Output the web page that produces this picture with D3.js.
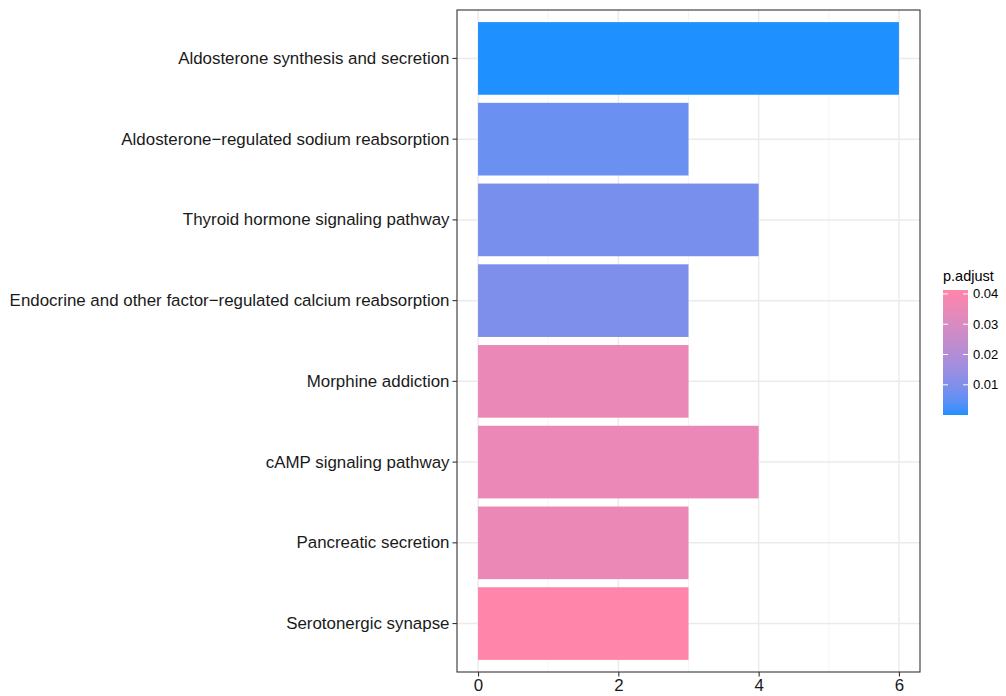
<!DOCTYPE html>
<html>
<head>
<meta charset="utf-8">
<script src="https://cdn.jsdelivr.net/npm/d3@7"></script>
<style>
  body { margin: 0; background: #fff; }
  svg { display: block; font-family: "Liberation Sans", Arial, sans-serif; }
</style>
</head>
<body>
<svg id="chart" width="1006" height="696"></svg>
<script>
// KEGG pathway enrichment: gene counts per pathway, coloured by adjusted p-value
const pathways = [
  "Aldosterone synthesis and secretion",
  "Aldosterone\u2212regulated sodium reabsorption",
  "Thyroid hormone signaling pathway",
  "Endocrine and other factor\u2212regulated calcium reabsorption",
  "Morphine addiction",
  "cAMP signaling pathway",
  "Pancreatic secretion",
  "Serotonergic synapse"
];
const counts = [6, 3, 4, 3, 3, 4, 3, 3];
const pAdjust = [0.00003, 0.0065, 0.0085, 0.0095, 0.0350, 0.0352, 0.0354, 0.0413];
const xTicks = [0, 2, 4, 6];
const xMinor = [1, 3, 5];
const legendTicks = [0.01, 0.02, 0.03, 0.04];

const svg = d3.select("#chart");
const panel = { left: 457, right: 920, top: 10, bottom: 672 };

const x = d3.scaleLinear().domain([-0.3, 6.3]).range([panel.left, panel.right]);
const y = d3.scaleBand().domain(pathways)
  .range([panel.top, panel.bottom])
  .paddingInner(0.1).paddingOuter(0.15);

const pExtent = d3.extent(pAdjust);
const color = d3.scaleLinear().domain(pExtent)
  .range(["#1E90FF", "#FF85AA"]).interpolate(d3.interpolateLab);

// panel grid
const grid = svg.append("g");
grid.selectAll("line.minor").data(xMinor).join("line")
  .attr("x1", d => x(d)).attr("x2", d => x(d))
  .attr("y1", panel.top).attr("y2", panel.bottom)
  .attr("stroke", "#F2F2F2").attr("stroke-width", 0.8);
grid.selectAll("line.majx").data(xTicks).join("line")
  .attr("x1", d => x(d)).attr("x2", d => x(d))
  .attr("y1", panel.top).attr("y2", panel.bottom)
  .attr("stroke", "#EBEBEB").attr("stroke-width", 1.5);
grid.selectAll("line.majy").data(pathways).join("line")
  .attr("x1", panel.left).attr("x2", panel.right)
  .attr("y1", d => y(d) + y.bandwidth() / 2).attr("y2", d => y(d) + y.bandwidth() / 2)
  .attr("stroke", "#EBEBEB").attr("stroke-width", 1.5);

// bars
svg.append("g").selectAll("rect").data(pathways).join("rect")
  .attr("x", x(0))
  .attr("y", d => y(d))
  .attr("width", (d, i) => x(counts[i]) - x(0))
  .attr("height", y.bandwidth())
  .attr("fill", (d, i) => color(pAdjust[i]));

// panel border
svg.append("rect")
  .attr("x", panel.left).attr("y", panel.top)
  .attr("width", panel.right - panel.left).attr("height", panel.bottom - panel.top)
  .attr("fill", "none").attr("stroke", "#333333").attr("stroke-width", 1.1);

// y axis
const yAxis = svg.append("g").attr("transform", `translate(${panel.left},0)`)
  .call(d3.axisLeft(y).tickSize(4.5).tickPadding(3));
yAxis.select(".domain").remove();
yAxis.selectAll("line").attr("stroke", "#333333").attr("stroke-width", 1.1);
yAxis.selectAll("text").attr("font-size", 16.9).attr("fill", "#1A1A1A")
  .attr("font-family", "Liberation Sans, Arial, sans-serif");

// x axis
const xAxis = svg.append("g").attr("transform", `translate(0,${panel.bottom})`)
  .call(d3.axisBottom(x).tickValues(xTicks).tickFormat(d3.format("d")).tickSize(4.5).tickPadding(3));
xAxis.select(".domain").remove();
xAxis.selectAll("line").attr("stroke", "#333333").attr("stroke-width", 1.1);
xAxis.selectAll("text").attr("font-size", 16.9).attr("fill", "#1A1A1A")
  .attr("font-family", "Liberation Sans, Arial, sans-serif");

// colour bar legend
const lg = { x: 943, w: 25, top: 290, bottom: 415 };
const ly = d3.scaleLinear().domain(pExtent).range([lg.bottom, lg.top]);
const defs = svg.append("defs");
const grad = defs.append("linearGradient").attr("id", "pgrad")
  .attr("x1", 0).attr("y1", 1).attr("x2", 0).attr("y2", 0);
d3.range(0, 1.0001, 0.05).forEach(t => {
  grad.append("stop").attr("offset", t)
    .attr("stop-color", color(pExtent[0] + t * (pExtent[1] - pExtent[0])));
});
svg.append("rect").attr("x", lg.x).attr("y", lg.top)
  .attr("width", lg.w).attr("height", lg.bottom - lg.top)
  .attr("fill", "url(#pgrad)");
const lt = svg.append("g");
legendTicks.forEach(v => {
  const yy = ly(v);
  lt.append("line").attr("x1", lg.x).attr("x2", lg.x + 5).attr("y1", yy).attr("y2", yy)
    .attr("stroke", "#fff").attr("stroke-width", 1);
  lt.append("line").attr("x1", lg.x + lg.w - 5).attr("x2", lg.x + lg.w).attr("y1", yy).attr("y2", yy)
    .attr("stroke", "#fff").attr("stroke-width", 1);
  lt.append("text").attr("x", lg.x + lg.w + 5).attr("y", yy).attr("dy", "0.35em")
    .attr("font-size", 13).attr("fill", "#000").text(d3.format(".2f")(v));
});
svg.append("text").attr("x", lg.x).attr("y", 281)
  .attr("font-size", 14.5).attr("fill", "#000").text("p.adjust");
</script>
</body>
</html>
